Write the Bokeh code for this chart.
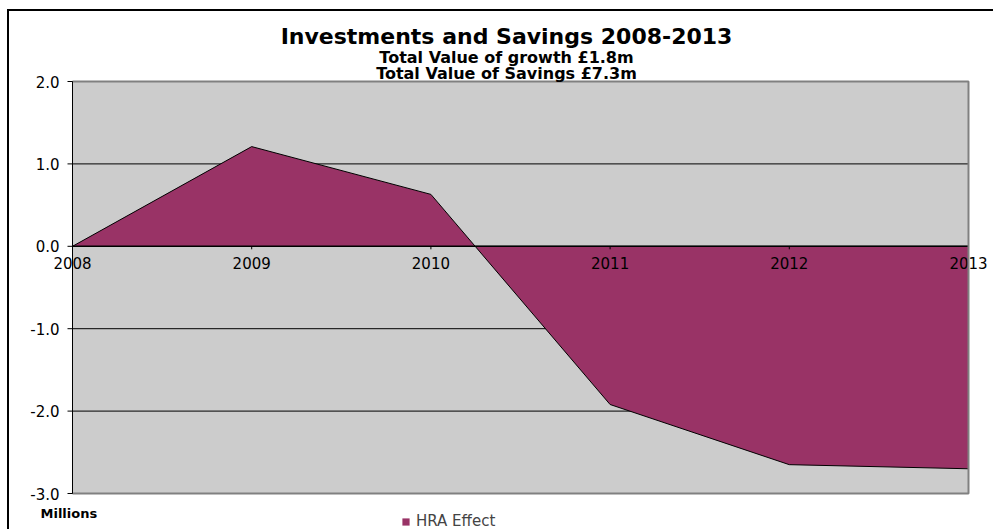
from bokeh.plotting import figure
from bokeh.models import ColumnDataSource, Range1d, Legend, LegendItem
from bokeh.core.properties import value
from bokeh.embed import file_html
from bokeh.resources import INLINE

# ---- data ----
years = [2008, 2009, 2010, 2011, 2012, 2013]
year_labels = ["2008", "2009", "2010", "2011", "2012", "2013"]
hra_effect = [0.0, 1.21, 0.63, -1.92, -2.65, -2.70]
y_ticks = [-3, -2, -1, 0, 1, 2]
y_tick_labels = ["-3.0", "-2.0", "-1.0", "0.0", "1.0", "2.0"]
title_text = "Investments and Savings 2008-2013"
subtitle1 = "Total Value of growth \u00a31.8m"
subtitle2 = "Total Value of Savings \u00a37.3m"
series_name = "HRA Effect"
unit_label = "Millions"

# ---- layout constants (pixels on the canvas) ----
W, H = 986, 520
PL, PR, PT, PB = 63, 27, 70, 38          # plot-area offsets inside canvas
FONT = value("DejaVu Sans")
FILL = "#993366"

x0, x1 = years[0], years[-1]
y0, y1 = y_ticks[0], y_ticks[-1]
pxx = (W - PL - PR) / (x1 - x0)
pxy = (H - PT - PB) / (y1 - y0)


def dx(px):
    return x0 + (px - PL) / pxx


def dy(py):
    return y1 - (py - PT) / pxy


p = figure(width=W, height=H,
           x_range=Range1d(dx(0), dx(W)), y_range=Range1d(dy(H), dy(0)),
           output_backend="svg", toolbar_location=None,
           x_axis_location=None, y_axis_location=None, min_border=0)
p.styles = {"margin-left": "7px", "margin-top": "9px",
            "border-left": "2px solid black", "border-top": "2px solid black"}
p.background_fill_color = "white"
p.border_fill_color = "white"
p.outline_line_color = None
p.grid.visible = False

n = len(y_ticks)
# plot area background
p.quad(left=[x0], right=[x1], bottom=[y0], top=[y1], fill_color="#cccccc", line_color=None)

# horizontal gridlines
grid = ColumnDataSource(dict(y=y_ticks, lab=y_tick_labels,
                             xa=[x0] * n, xb=[x1] * n, xt=[x0 - 5 / pxx] * n))
p.segment(x0="xa", y0="y", x1="xb", y1="y", source=grid, line_color="black", line_width=1)

# area series
src = ColumnDataSource(dict(x=years, y=hra_effect, lab=year_labels,
                            base=[0.0] * len(years), tk=[-3 / pxy] * len(years)))
area = p.varea(x="x", y1="base", y2="y", source=src, fill_color=FILL)
p.line(x="x", y="y", source=src, line_color="black", line_width=1)
p.segment(x0=years[-1:], y0=[0.0], x1=years[-1:], y1=hra_effect[-1:],
          line_color="black", line_width=1)

# zero line (category axis)
p.segment(x0=[x0], y0=[0.0], x1=[x1], y1=[0.0], line_color="black", line_width=1.5)
p.segment(x0="x", y0="base", x1="x", y1="tk", source=src, line_color="black", line_width=1)
p.text(x="x", y="base", text="lab", source=src, y_offset=11, text_align="center",
       text_baseline="top", text_font=FONT, text_font_size="15px", text_color="black")

# frame outline (top, right, bottom)
p.line(x=[x0, x1, x1, x0], y=[y1, y1, y0, y0], line_color="#808080", line_width=2)

# value axis
p.segment(x0=[x0], y0=[y0], x1=[x0], y1=[y1], line_color="black", line_width=1)
p.segment(x0="xt", y0="y", x1="xa", y1="y", source=grid, line_color="black", line_width=1)
p.text(x="xa", y="y", text="lab", source=grid, x_offset=-13, text_align="right",
       text_baseline="middle", text_font=FONT, text_font_size="15px", text_color="black")

# titles
cx = dx(497)
p.text(x=[cx], y=[dy(25)], text=[title_text], text_align="center", text_baseline="alphabetic",
       text_font=FONT, text_font_style="bold", text_font_size="22px", text_color="black")
p.text(x=[cx], y=[dy(46)], text=[subtitle1], text_align="center", text_baseline="alphabetic",
       text_font=FONT, text_font_style="bold", text_font_size="16px", text_color="black")
p.text(x=[cx], y=[dy(62)], text=[subtitle2], text_align="center", text_baseline="alphabetic",
       text_font=FONT, text_font_style="bold", text_font_size="16px", text_color="black")

# units
p.text(x=[dx(31)], y=[dy(502)], text=[unit_label], text_align="left", text_baseline="middle",
       text_font=FONT, text_font_style="bold", text_font_size="13px", text_color="black")

# legend
legend = Legend(items=[LegendItem(label=series_name, renderers=[area])],
                location=(392, 1), orientation="horizontal",
                padding=0, margin=0, spacing=0, glyph_width=9, glyph_height=9,
                label_standoff=6, border_line_color=None, background_fill_alpha=0,
                label_text_font="DejaVu Sans", label_text_font_size="15px",
                label_height=14, label_text_baseline="middle")
p.add_layout(legend)

open("out.html", "w").write(file_html(p, INLINE))
